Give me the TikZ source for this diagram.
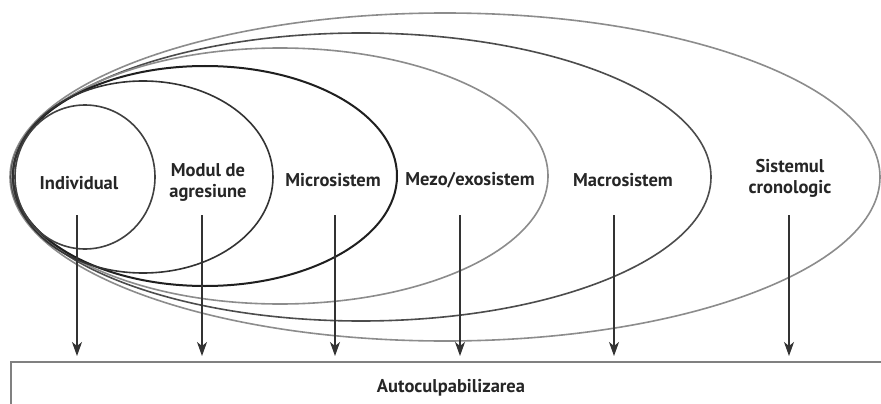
\documentclass[tikz,border=0pt]{standalone}
\usepackage{fontspec}
\setmainfont{PT Sans}
\usetikzlibrary{arrows.meta}
\begin{document}
\begin{tikzpicture}[x=1pt,y=-1pt,
  ring/.style={line width=1.6pt},
  lbl/.style={font=\bfseries\fontsize{18.5}{21}\selectfont, align=center, inner sep=0pt, text=black!85},
  arr/.style={line width=1.2pt, draw=black!80, -{Stealth[length=14pt,width=10pt,inset=4pt]}, shorten >=5pt}]
\useasboundingbox (0,0) rectangle (881,404);
\clip (0,0) rectangle (881,404);
\fill[white] (0,0) rectangle (881,404);
% ellipses, all sharing the left point
\draw[ring, draw=black!45] (445,177) ellipse [x radius=435, y radius=164];
\draw[ring, draw=black!70] (361,177) ellipse [x radius=350, y radius=144];
\draw[ring, draw=black!45] (280,176) ellipse [x radius=268, y radius=128];
\draw[ring, line width=2pt, draw=black!88] (205,176) ellipse [x radius=192, y radius=110];
\draw[ring, draw=black!80] (143,177) ellipse [x radius=130, y radius=96];
\draw[ring, draw=black!75] (85,177) ellipse [x radius=70, y radius=72];
% labels
\node[lbl] (ind) at (79,183) {Individual};
\node[lbl] (mod) at (208,182) {Modul de\\agresiune};
\node[lbl] (mic) at (333,180) {Microsistem};
\node[lbl] (mez) at (470,180) {Mezo/exosistem};
\node[lbl] (mac) at (623,180) {Macrosistem};
\node[lbl] (sis) at (790,178) {Sistemul\\cronologic};
% box
\node[draw=black!50, line width=2pt, anchor=north west, minimum width=880pt, minimum height=52pt, inner sep=0pt,
  font=\bfseries\fontsize{18.5}{21}\selectfont, text=black!85] (box) at (10,361) {Autoculpabilizarea};
% arrow starts
\coordinate (s1) at (77,215);
\coordinate (s2) at (202,215);
\coordinate (s3) at (335,215);
\coordinate (s4) at (460,215);
\coordinate (s5) at (614,215);
\coordinate (s6) at (789,215);
\foreach \i in {1,...,6}{
  \draw[arr] (s\i) -- (s\i |- box.north);
}
\end{tikzpicture}
\end{document}
